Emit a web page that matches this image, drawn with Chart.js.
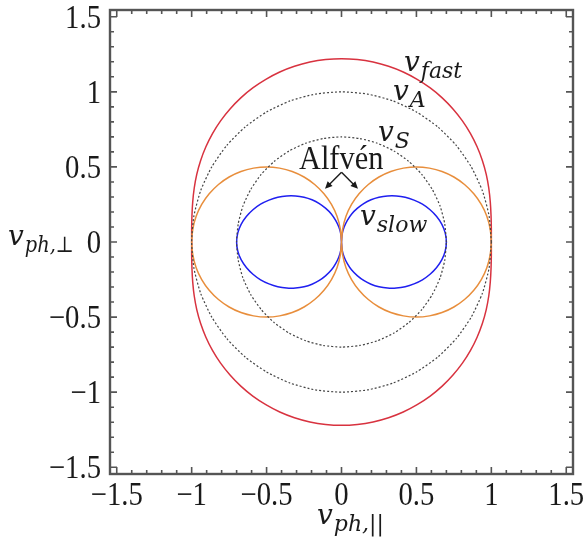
<!DOCTYPE html>
<html>
<head>
<meta charset="utf-8">
<script src="https://cdn.jsdelivr.net/npm/chart.js@4.4.1/dist/chart.umd.min.js"></script>
<style>
  html, body { margin: 0; background: #fff; }
  #wrap { width: 588px; height: 547px; }
</style>
</head>
<body>
<div id="wrap"><canvas id="c"></canvas></div>
<script>
// axis ticks
const tickValues = [-1.5, -1, -0.5, 0, 0.5, 1, 1.5];
const tickLabels = ["−1.5", "−1", "−0.5", "0", "0.5", "1", "1.5"];

// first-quadrant points, from the x axis round to the y axis
const fastQuad = [[1.000,0.000],[1.000,0.087],[0.998,0.176],[0.993,0.266],[0.983,0.358],[0.966,0.450],[0.940,0.543],[0.905,0.634],[0.861,0.722],[0.807,0.807],[0.744,0.886],[0.672,0.960],[0.592,1.026],[0.505,1.083],[0.412,1.132],[0.314,1.170],[0.211,1.198],[0.106,1.215],[0.000,1.221]];
const alfvenCircle = [[1.000,0.000],[0.985,0.174],[0.940,0.342],[0.866,0.500],[0.766,0.643],[0.643,0.766],[0.500,0.866],[0.342,0.940],[0.174,0.985],[0.000,1.000]];
const soundCircle = [[0.700,0.000],[0.689,0.122],[0.658,0.239],[0.606,0.350],[0.536,0.450],[0.450,0.536],[0.350,0.606],[0.239,0.658],[0.122,0.689],[0.000,0.700]];
// lobes (right upper half), from their far end back to the origin
const alfvenLobe = [[1.000,0.000],[0.992,0.087],[0.970,0.171],[0.933,0.250],[0.883,0.321],[0.821,0.383],[0.750,0.433],[0.671,0.470],[0.587,0.492],[0.500,0.500],[0.413,0.492],[0.329,0.470],[0.250,0.433],[0.179,0.383],[0.117,0.321],[0.067,0.250],[0.030,0.171],[0.008,0.087],[0.000,0.000]];
const slowLobe = [[0.700,0.000],[0.692,0.061],[0.670,0.118],[0.635,0.170],[0.591,0.215],[0.540,0.252],[0.484,0.279],[0.425,0.298],[0.366,0.307],[0.307,0.307],[0.250,0.298],[0.197,0.281],[0.148,0.256],[0.105,0.224],[0.068,0.187],[0.039,0.144],[0.017,0.098],[0.004,0.050],[0.000,0.000]];

// mirror a quadrant into a closed curve round the origin
function fullLoop(q) {
  const out = q.slice();
  q.slice(0, -1).reverse().forEach(([x, y]) => out.push([-x, y]));
  q.slice(1).forEach(([x, y]) => out.push([-x, -y]));
  q.slice(0, -1).reverse().forEach(([x, y]) => out.push([x, -y]));
  return out.map(([x, y]) => ({ x, y }));
}
// both lobes, each closed at the origin; a null point breaks the line between them
function lobes(q) {
  const right = q.slice().reverse().concat(q.slice(1).map(([x, y]) => [x, -y]));
  const left = right.map(([x, y]) => [-x, y]);
  return right.map(([x, y]) => ({ x, y }))
    .concat([{ x: null, y: null }])
    .concat(left.map(([x, y]) => ({ x, y })));
}

const RED = "#d8323f", ORANGE = "#e88e3c", BLUE = "#1f1ff0", GREY = "#444";
const SERIF = '"Liberation Serif", serif';
const MATH = '"DejaVu Serif", serif';

function text(ctx, s, x, y, font, sx, align) {
  ctx.save();
  ctx.translate(x, y);
  ctx.scale(sx, 1);
  ctx.font = font;
  ctx.textAlign = align || "left";
  ctx.textBaseline = "alphabetic";
  ctx.fillStyle = "#1a1a1a";
  ctx.fillText(s, 0, 0);
  const w = ctx.measureText(s).width * sx;
  ctx.restore();
  return w;
}
function vsub(ctx, x, y, sub, subScale) {
  const w = text(ctx, "v", x, y, "italic 28px " + MATH, 1);
  text(ctx, sub, x + w + 1, y + 7, "italic 22px " + MATH, subScale || 1);
}
function arrow(ctx, x0, y0, x1, y1) {
  const a = Math.atan2(y1 - y0, x1 - x0);
  ctx.beginPath();
  ctx.moveTo(x0, y0);
  ctx.lineTo(x1 - 5 * Math.cos(a), y1 - 5 * Math.sin(a));
  ctx.stroke();
  ctx.beginPath();
  ctx.moveTo(x1, y1);
  ctx.lineTo(x1 - 8 * Math.cos(a - 0.45), y1 - 8 * Math.sin(a - 0.45));
  ctx.lineTo(x1 - 8 * Math.cos(a + 0.45), y1 - 8 * Math.sin(a + 0.45));
  ctx.closePath();
  ctx.fill();
}

const frame = {
  id: "frame",
  afterDraw(chart) {
    const { ctx, chartArea: a, scales } = chart;
    const sx = scales.x, sy = scales.y;
    ctx.save();
    ctx.strokeStyle = "#555";
    ctx.lineWidth = 1.6;
    for (let i = -15; i <= 15; i++) {
      const v = i / 10, len = i % 5 === 0 ? 7 : 4;
      const px = sx.getPixelForValue(v), py = sy.getPixelForValue(v);
      ctx.beginPath();
      ctx.moveTo(px, a.bottom); ctx.lineTo(px, a.bottom - len);
      ctx.moveTo(px, a.top); ctx.lineTo(px, a.top + len);
      ctx.moveTo(a.left, py); ctx.lineTo(a.left + len, py);
      ctx.moveTo(a.right, py); ctx.lineTo(a.right - len, py);
      ctx.stroke();
    }
    ctx.lineWidth = 2.4;
    ctx.strokeRect(a.left, a.top, a.right - a.left, a.bottom - a.top);

    tickValues.forEach((v, i) => {
      text(ctx, tickLabels[i], sx.getPixelForValue(v), a.bottom + 31, "33px " + SERIF, 0.87, "center");
      text(ctx, tickLabels[i], a.left - 9, sy.getPixelForValue(v) + 11, "33px " + SERIF, 0.87, "right");
    });

    // axis titles
    vsub(ctx, 317, 524, "ph,||");
    vsub(ctx, 8, 245, "ph,⊥", 0.88);

    // curve labels
    vsub(ctx, 404, 71, "fast");
    vsub(ctx, 393, 100, "A");
    vsub(ctx, 378, 141, "S");
    vsub(ctx, 360, 225, "slow");
    text(ctx, "Alfvén", 299, 169, "33px " + SERIF, 0.92);

    ctx.strokeStyle = "#1a1a1a";
    ctx.fillStyle = "#1a1a1a";
    ctx.lineWidth = 1.4;
    const ax = sx.getPixelForValue(0), ay = sy.getPixelForValue(0.465);
    arrow(ctx, ax, ay, sx.getPixelForValue(-0.11), sy.getPixelForValue(0.355));
    arrow(ctx, ax, ay, sx.getPixelForValue(0.11), sy.getPixelForValue(0.355));
    ctx.restore();
  }
};

function curve(data, color, width, dash) {
  return {
    data, showLine: true, pointRadius: 0, borderColor: color,
    borderWidth: width, borderDash: dash || [], tension: 0.2, fill: false, spanGaps: false
  };
}

new Chart(document.getElementById("c"), {
  type: "scatter",
  data: {
    datasets: [
      curve(fullLoop(soundCircle), GREY, 1.2, [2, 2]),
      curve(fullLoop(alfvenCircle), GREY, 1.2, [2, 2]),
      curve(lobes(alfvenLobe), ORANGE, 1.5),
      curve(lobes(slowLobe), BLUE, 1.5),
      curve(fullLoop(fastQuad), RED, 1.5)
    ]
  },
  options: {
    responsive: true,
    maintainAspectRatio: false,
    animation: false,
    layout: { padding: { left: 0, top: 10, right: 15, bottom: 0 } },
    plugins: { legend: { display: false }, tooltip: { enabled: false } },
    scales: {
      x: {
        type: "linear", min: -1.545, max: 1.545,
        grid: { display: false }, border: { display: false },
        ticks: { display: false },
        afterFit: s => { s.height = 73; }
      },
      y: {
        type: "linear", min: -1.545, max: 1.545,
        grid: { display: false }, border: { display: false },
        ticks: { display: false },
        afterFit: s => { s.width = 110; }
      }
    }
  },
  plugins: [frame]
});
</script>
</body>
</html>
